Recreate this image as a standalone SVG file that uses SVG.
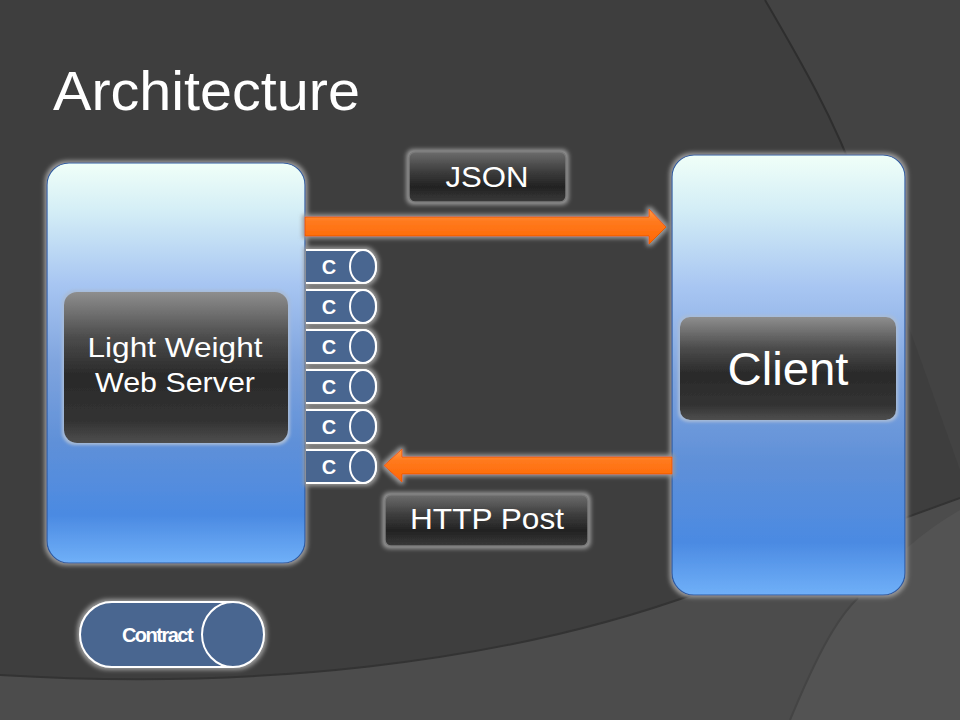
<svg xmlns="http://www.w3.org/2000/svg" width="960" height="720" viewBox="0 0 960 720">
<defs>
<style>
.t{font-family:"Liberation Sans",Arial,sans-serif;fill:#ffffff}
.cyl{fill:#4a6690;stroke:#ffffff;stroke-width:2}
.ct{font-family:"Liberation Sans",Arial,sans-serif;font-weight:bold;fill:#ffffff;font-size:20px}
</style>
<linearGradient id="blue" x1="0" y1="0" x2="0" y2="1">
<stop offset="0" stop-color="#f0fff8"/>
<stop offset="0.12" stop-color="#d4eef6"/>
<stop offset="0.3" stop-color="#a8c6f2"/>
<stop offset="0.5" stop-color="#7fa4de"/>
<stop offset="0.7" stop-color="#5f90d8"/>
<stop offset="0.88" stop-color="#4b8ae2"/>
<stop offset="1" stop-color="#70b0f8"/>
</linearGradient>
<linearGradient id="dark" x1="0" y1="0" x2="0" y2="1">
<stop offset="0" stop-color="#8e8e8e"/>
<stop offset="0.3" stop-color="#4c4c4c"/>
<stop offset="0.55" stop-color="#2a2a2a"/>
<stop offset="0.85" stop-color="#323232"/>
<stop offset="1" stop-color="#4e4e4e"/>
</linearGradient>
<linearGradient id="lab" x1="0" y1="0" x2="0" y2="1">
<stop offset="0" stop-color="#6c6c6c"/>
<stop offset="0.4" stop-color="#3c3c3c"/>
<stop offset="0.7" stop-color="#222222"/>
<stop offset="1" stop-color="#3a3a3a"/>
</linearGradient>
<linearGradient id="orange" x1="0" y1="0" x2="0" y2="1">
<stop offset="0" stop-color="#ff9a48"/>
<stop offset="0.35" stop-color="#ff7a1e"/>
<stop offset="1" stop-color="#ff6600"/>
</linearGradient>
<filter id="glow" x="-20%" y="-20%" width="140%" height="140%">
<feMorphology in="SourceAlpha" operator="dilate" radius="2" result="d"/>
<feGaussianBlur in="d" stdDeviation="2" result="b"/>
<feFlood flood-color="#9a9a9a"/>
<feComposite in2="b" operator="in" result="g"/>
<feMerge><feMergeNode in="g"/><feMergeNode in="SourceGraphic"/></feMerge>
</filter>
<filter id="glowb" x="-20%" y="-20%" width="140%" height="140%">
<feMorphology in="SourceAlpha" operator="dilate" radius="2" result="d"/>
<feGaussianBlur in="d" stdDeviation="1.5" result="b"/>
<feFlood flood-color="#a8bcd8"/>
<feComposite in2="b" operator="in" result="g"/>
<feMerge><feMergeNode in="g"/><feMergeNode in="SourceGraphic"/></feMerge>
</filter>
</defs>

<!-- background -->
<rect x="0" y="0" width="960" height="720" fill="#3e3e3e"/>
<path d="M765,0 C800,60 835,120 860,190 L960,470 L960,0 Z" fill="#434343"/>
<path d="M765,0 C800,60 835,120 860,190" fill="none" stroke="#2e2e2e" stroke-width="2"/>
<path d="M0,675 C250,690 500,665 700,592 C820,548 900,520 960,498 L960,720 L0,720 Z" fill="#4c4c4c"/>
<path d="M0,675 C250,690 500,665 700,592 C820,548 900,520 960,498" fill="none" stroke="#333333" stroke-width="2"/>
<path d="M790,720 C815,660 835,620 858,598 C890,560 925,530 960,510 L960,720 Z" fill="#535353"/>
<path d="M790,720 C815,660 835,620 858,598" fill="none" stroke="#444444" stroke-width="2"/>

<text class="t" x="53" y="110" font-size="56" textLength="307" lengthAdjust="spacingAndGlyphs">Architecture</text>

<g id="server">
<rect x="47" y="163" width="258" height="400" rx="22" fill="url(#blue)" stroke="#2a5aa0" stroke-width="1.2" filter="url(#glow)"/>
<rect x="64" y="292" width="224" height="151" rx="13" fill="url(#dark)" filter="url(#glowb)"/>
<text class="t" x="175" y="357" font-size="28" text-anchor="middle" textLength="175" lengthAdjust="spacingAndGlyphs">Light Weight</text>
<text class="t" x="175" y="392" font-size="28" text-anchor="middle" textLength="160" lengthAdjust="spacingAndGlyphs">Web Server</text>
</g>

<g id="client">
<rect x="672" y="155" width="233" height="440" rx="22" fill="url(#blue)" stroke="#2a5aa0" stroke-width="1.2" filter="url(#glow)"/>
<rect x="680" y="317" width="216" height="103" rx="10" fill="url(#dark)" filter="url(#glowb)"/>
<text class="t" x="788" y="385" font-size="46" text-anchor="middle" textLength="121" lengthAdjust="spacingAndGlyphs">Client</text>
</g>

<g id="json">
<rect x="409" y="152" width="157" height="50" rx="6" fill="url(#lab)" stroke="#7a7a7a" stroke-width="1.5" filter="url(#glow)"/>
<text class="t" x="487" y="187" font-size="29" text-anchor="middle" textLength="83" lengthAdjust="spacingAndGlyphs">JSON</text>
</g>

<g id="httppost">
<rect x="385" y="495" width="203" height="51" rx="6" fill="url(#lab)" stroke="#7a7a7a" stroke-width="1.5" filter="url(#glow)"/>
<text class="t" x="487" y="529" font-size="30" text-anchor="middle" textLength="154" lengthAdjust="spacingAndGlyphs">HTTP Post</text>
</g>

<g id="connectors">
<path d="M305,217 L649,217 L649,209 L666,227 L649,244 L649,236 L305,236 Z" fill="url(#orange)" stroke="#e85a00" stroke-width="1" filter="url(#glow)"/>
<path d="M672,457 L402,457 L402,449 L384,465.5 L402,482 L402,474 L672,474 Z" fill="url(#orange)" stroke="#e85a00" stroke-width="1" filter="url(#glow)"/>
</g>

<g id="contracts">
<g id="c1" filter="url(#glow)">
<path class="cyl" d="M306,250 L363,250 A13,16.5 0 0 1 363,283 L306,283"/>
<ellipse class="cyl" cx="363" cy="266.5" rx="13" ry="16.5"/>
</g>
<text class="ct" x="329" y="274" text-anchor="middle">C</text>
<g id="c2" filter="url(#glow)">
<path class="cyl" d="M306,290 L363,290 A13,16.5 0 0 1 363,323 L306,323"/>
<ellipse class="cyl" cx="363" cy="306.5" rx="13" ry="16.5"/>
</g>
<text class="ct" x="329" y="314" text-anchor="middle">C</text>
<g id="c3" filter="url(#glow)">
<path class="cyl" d="M306,330 L363,330 A13,16.5 0 0 1 363,363 L306,363"/>
<ellipse class="cyl" cx="363" cy="346.5" rx="13" ry="16.5"/>
</g>
<text class="ct" x="329" y="354" text-anchor="middle">C</text>
<g id="c4" filter="url(#glow)">
<path class="cyl" d="M306,370 L363,370 A13,16.5 0 0 1 363,403 L306,403"/>
<ellipse class="cyl" cx="363" cy="386.5" rx="13" ry="16.5"/>
</g>
<text class="ct" x="329" y="394" text-anchor="middle">C</text>
<g id="c5" filter="url(#glow)">
<path class="cyl" d="M306,410 L363,410 A13,16.5 0 0 1 363,443 L306,443"/>
<ellipse class="cyl" cx="363" cy="426.5" rx="13" ry="16.5"/>
</g>
<text class="ct" x="329" y="434" text-anchor="middle">C</text>
<g id="c6" filter="url(#glow)">
<path class="cyl" d="M306,450 L363,450 A13,16.5 0 0 1 363,483 L306,483"/>
<ellipse class="cyl" cx="363" cy="466.5" rx="13" ry="16.5"/>
</g>
<text class="ct" x="329" y="474" text-anchor="middle">C</text>
</g>

<g id="contract">
<g filter="url(#glow)">
<path class="cyl" d="M233,602 L112,602 A32,32.5 0 0 0 112,667 L233,667 Z"/>
<ellipse class="cyl" cx="233" cy="634.5" rx="31" ry="32.5"/>
</g>
<text class="ct" x="157" y="642" text-anchor="middle" letter-spacing="-1.5">Contract</text>
</g>
</svg>
